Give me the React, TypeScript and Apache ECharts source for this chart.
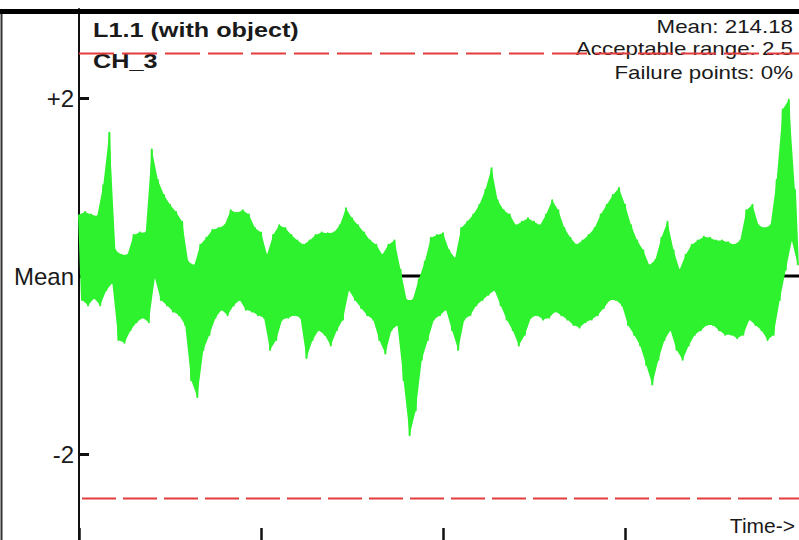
import React, { useEffect, useRef } from "react";
import * as echarts from "echarts";

// Upper / lower envelope of the signal band, one pair per sample (units of "deviation from mean")
const upper = [
  0.69, 0.72, 0.69, 0.67, 1.02, 1.61, 0.29, 0.24, 0.24, 0.46,
  0.49, 0.49, 1.42, 1.08, 0.91, 0.8, 0.72, 0.61, 0.16, 0.12,
  0.35, 0.43, 0.52, 0.54, 0.57, 0.74, 0.71, 0.74, 0.69, 0.54,
  0.49, 0.24, 0.46, 0.57, 0.54, 0.46, 0.4, 0.35, 0.4, 0.46,
  0.49, 0.48, 0.49, 0.57, 0.76, 0.65, 0.57, 0.49, 0.4, 0.35,
  0.24, 0.35, 0.4, 0.07, -0.27, -0.27, -0.04, 0.16, 0.43, 0.46,
  0.48, 0.29, 0.2, 0.54, 0.61, 0.69, 0.8, 0.97, 1.21, 0.85,
  0.74, 0.69, 0.57, 0.61, 0.65, 0.61, 0.57, 0.69, 0.85, 0.74,
  0.54, 0.43, 0.35, 0.4, 0.46, 0.54, 0.69, 0.8, 0.91, 0.99,
  0.8, 0.57, 0.4, 0.29, 0.12, 0.18, 0.43, 0.61, 0.29, 0.07,
  0.24, 0.35, 0.4, 0.44, 0.43, 0.4, 0.4, 0.38, 0.35, 0.4,
  0.74, 0.8, 0.57, 0.54, 0.57, 1.08, 1.87, 1.98, 0.97,
];
const lower = [
  -0.27, -0.33, -0.25, -0.33, -0.16, -0.08, -0.72, -0.75, -0.61, -0.52,
  -0.47, -0.52, -0.02, -0.27, -0.33, -0.4, -0.44, -0.55, -1.17, -1.36,
  -0.83, -0.66, -0.47, -0.38, -0.44, -0.33, -0.27, -0.38, -0.4, -0.44,
  -0.47, -0.83, -0.72, -0.49, -0.47, -0.44, -0.47, -0.92, -0.72, -0.61,
  -0.66, -0.78, -0.61, -0.49, -0.16, -0.27, -0.36, -0.44, -0.49, -0.72,
  -0.87, -0.61, -0.55, -1.17, -1.79, -1.51, -0.94, -0.72, -0.49, -0.44,
  -0.38, -0.61, -0.83, -0.49, -0.44, -0.33, -0.27, -0.21, -0.16, -0.33,
  -0.49, -0.61, -0.78, -0.66, -0.47, -0.44, -0.49, -0.47, -0.4, -0.44,
  -0.49, -0.55, -0.58, -0.52, -0.49, -0.44, -0.36, -0.27, -0.27, -0.33,
  -0.55, -0.66, -0.78, -1.0, -1.22, -0.94, -0.72, -0.61, -0.83, -0.94,
  -0.78, -0.66, -0.61, -0.55, -0.55, -0.61, -0.66, -0.66, -0.7, -0.66,
  -0.49, -0.55, -0.61, -0.72, -0.66, -0.27, 0.07, 0.4, 0.12,
];

const yTicks = [-2, 0, 2];
const xTicks = [0, 30, 60, 90];
const X_MAX = 118.68;
const MEAN_VALUE = "214.18";
const RANGE = 2.5;
const FAILURE = "0%";
const TITLE = "L1.1 (with object)";
const CHANNEL = "CH_3";

const FONT = "'Liberation Sans', Arial, Helvetica, sans-serif";
const GREEN = "#2ef22e";

export default function App() {
  const ref = useRef<HTMLDivElement>(null);

  useEffect(() => {
    if (!ref.current) return;
    const chart = echarts.init(ref.current, null, { renderer: "svg" });

    const zigzag: [number, number][] = [];
    upper.forEach((u, i) => {
      zigzag.push([i, u]);
      zigzag.push([i + 0.5, lower[i]]);
    });

    const option: any = {
      animation: false,
      backgroundColor: "#ffffff",
      grid: { left: 79, top: 9, width: 720, height: 534, outerBoundsMode: "none" },
      xAxis: {
        type: "value",
        min: 0,
        max: X_MAX,
        axisLine: { show: true, onZero: false, lineStyle: { color: "#111", width: 2 } },
        axisTick: {
          show: true,
          inside: true,
          length: 15,
          customValues: xTicks,
          lineStyle: { color: "#111", width: 2.5 },
        },
        axisLabel: { show: false, customValues: xTicks },
        splitLine: { show: false },
      },
      yAxis: {
        type: "value",
        min: -3,
        max: 3,
        axisLine: { show: true, lineStyle: { color: "#111", width: 2 } },
        axisTick: {
          show: true,
          inside: true,
          length: 10,
          customValues: yTicks,
          lineStyle: { color: "#111", width: 3 },
        },
        axisLabel: {
          customValues: yTicks,
          formatter: (v: number) => (v === 0 ? "Mean" : v > 0 ? "+" + v : String(v)),
          fontSize: 24,
          color: "#1a1a1a",
          fontFamily: FONT,
          margin: 5,
        },
        splitLine: { show: false },
      },
      series: [
        {
          name: "mean",
          type: "line",
          data: [[0, 0], [X_MAX, 0]],
          symbol: "none",
          silent: true,
          z: 1,
          lineStyle: { color: "#000", width: 3 },
        },
        {
          name: "band",
          type: "custom",
          data: [[0, upper[0]]],
          silent: true,
          z: 2,
          renderItem: (params: any, api: any) => {
            if (params.dataIndex !== 0) return null;
            const top = upper.map((u, i) => api.coord([i, u]));
            const bottom = lower.map((l, i) => api.coord([i + 0.5, l])).reverse();
            return {
              type: "polygon",
              shape: { points: top.concat(bottom) },
              style: { fill: GREEN, stroke: "none" },
            };
          },
        },
        {
          name: "signal",
          type: "line",
          data: zigzag,
          symbol: "none",
          showSymbol: false,
          silent: true,
          z: 3,
          lineStyle: { color: GREEN, width: 2, join: "round" },
        },
        {
          name: "upper limit",
          type: "line",
          data: [[0, RANGE], [X_MAX, RANGE]],
          symbol: "none",
          silent: true,
          z: 4,
          lineStyle: { color: "#e23c3c", width: 2, type: [35, 8] },
        },
        {
          name: "lower limit",
          type: "line",
          data: [[0, -RANGE], [X_MAX, -RANGE]],
          symbol: "none",
          silent: true,
          z: 4,
          lineStyle: { color: "#e23c3c", width: 2, type: [34, 7], dashOffset: 38 },
        },
      ],
      graphic: [
        { type: "rect", shape: { x: 0, y: 9, width: 799, height: 5 }, style: { fill: "#000" }, z: 10 },
        { type: "line", shape: { x1: 1.5, y1: 14, x2: 1.5, y2: 540 }, style: { stroke: "#333", lineWidth: 2 } },
        {
          type: "text",
          x: 93,
          y: 30,
          scaleX: 1.2,
          style: { text: TITLE, fontSize: 21, fontWeight: "bold", fontFamily: FONT, fill: "#1a1a1a", align: "left", verticalAlign: "middle" },
        },
        {
          type: "text",
          x: 93,
          y: 61,
          scaleX: 1.2,
          style: { text: CHANNEL, fontSize: 21, fontWeight: "bold", fontFamily: FONT, fill: "#1a1a1a", align: "left", verticalAlign: "middle" },
        },
        {
          type: "text",
          x: 793,
          y: 27,
          scaleX: 1.24,
          style: { text: "Mean: " + MEAN_VALUE, fontSize: 18, fontFamily: FONT, fill: "#1a1a1a", align: "right", verticalAlign: "middle" },
        },
        {
          type: "text",
          x: 793,
          y: 49,
          scaleX: 1.24,
          style: { text: "Acceptable range: " + RANGE, fontSize: 18, fontFamily: FONT, fill: "#1a1a1a", align: "right", verticalAlign: "middle" },
        },
        {
          type: "text",
          x: 793,
          y: 73,
          scaleX: 1.24,
          style: { text: "Failure points: " + FAILURE, fontSize: 18, fontFamily: FONT, fill: "#1a1a1a", align: "right", verticalAlign: "middle" },
        },
        {
          type: "text",
          x: 795,
          y: 525,
          style: { text: "Time->", fontSize: 21, fontFamily: FONT, fill: "#1a1a1a", align: "right", verticalAlign: "middle" },
        },
      ],
    };

    chart.setOption(option);
    return () => chart.dispose();
  }, []);

  return (
    <div
      ref={ref}
      style={{ position: "absolute", left: 0, top: 0, width: 799, height: 540 }}
    />
  );
}
